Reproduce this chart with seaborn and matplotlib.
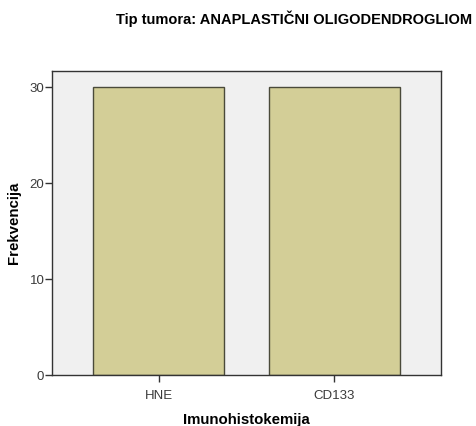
import matplotlib
matplotlib.use("Agg")
import matplotlib.pyplot as plt
import seaborn as sns
import pandas as pd

categories = ["HNE", "CD133"]
counts = [30, 30]
yticks = [0, 10, 20, 30]

sns.set_style("white")
plt.rcParams["font.family"] = ["Liberation Sans", "DejaVu Sans"]

df = pd.DataFrame({"Imunohistokemija": categories, "Frekvencija": counts})

fig = plt.figure(figsize=(4.77, 4.26), dpi=100)
ax = fig.add_axes([0.109, 0.1197, 0.8155, 0.7136])
ax.set_facecolor("#F0F0F0")

sns.barplot(data=df, x="Imunohistokemija", y="Frekvencija", order=categories,
            color="#D3CE97", saturation=1, width=0.747,
            edgecolor="#4A4A3A", linewidth=1.0, ax=ax)

ax.set_xlim(-0.609, 1.609)
ax.set_ylim(0, 31.67)
ax.set_yticks(yticks)
ax.tick_params(axis="both", direction="out", length=5, width=1, color="#333333",
               labelsize=9.5, labelcolor="#3A3A3A")
ax.tick_params(axis="x", bottom=True, pad=6)
ax.tick_params(axis="y", left=True, pad=0.5)
for s in ax.spines.values():
    s.set_color("#333333")
    s.set_linewidth(1)

ax.set_xlabel("Imunohistokemija", fontsize=10.8, fontweight="bold",
              color="black", labelpad=8)
ax.set_ylabel("Frekvencija", fontsize=10.8, fontweight="bold",
              color="black", labelpad=6)

fig.text(0.616, 0.957, "Tip tumora: ANAPLASTIČNI OLIGODENDROGLIOM",
         ha="center", va="center", fontsize=10.5, fontweight="bold",
         color="black")

fig.savefig("out.png", dpi=100, facecolor="white")
